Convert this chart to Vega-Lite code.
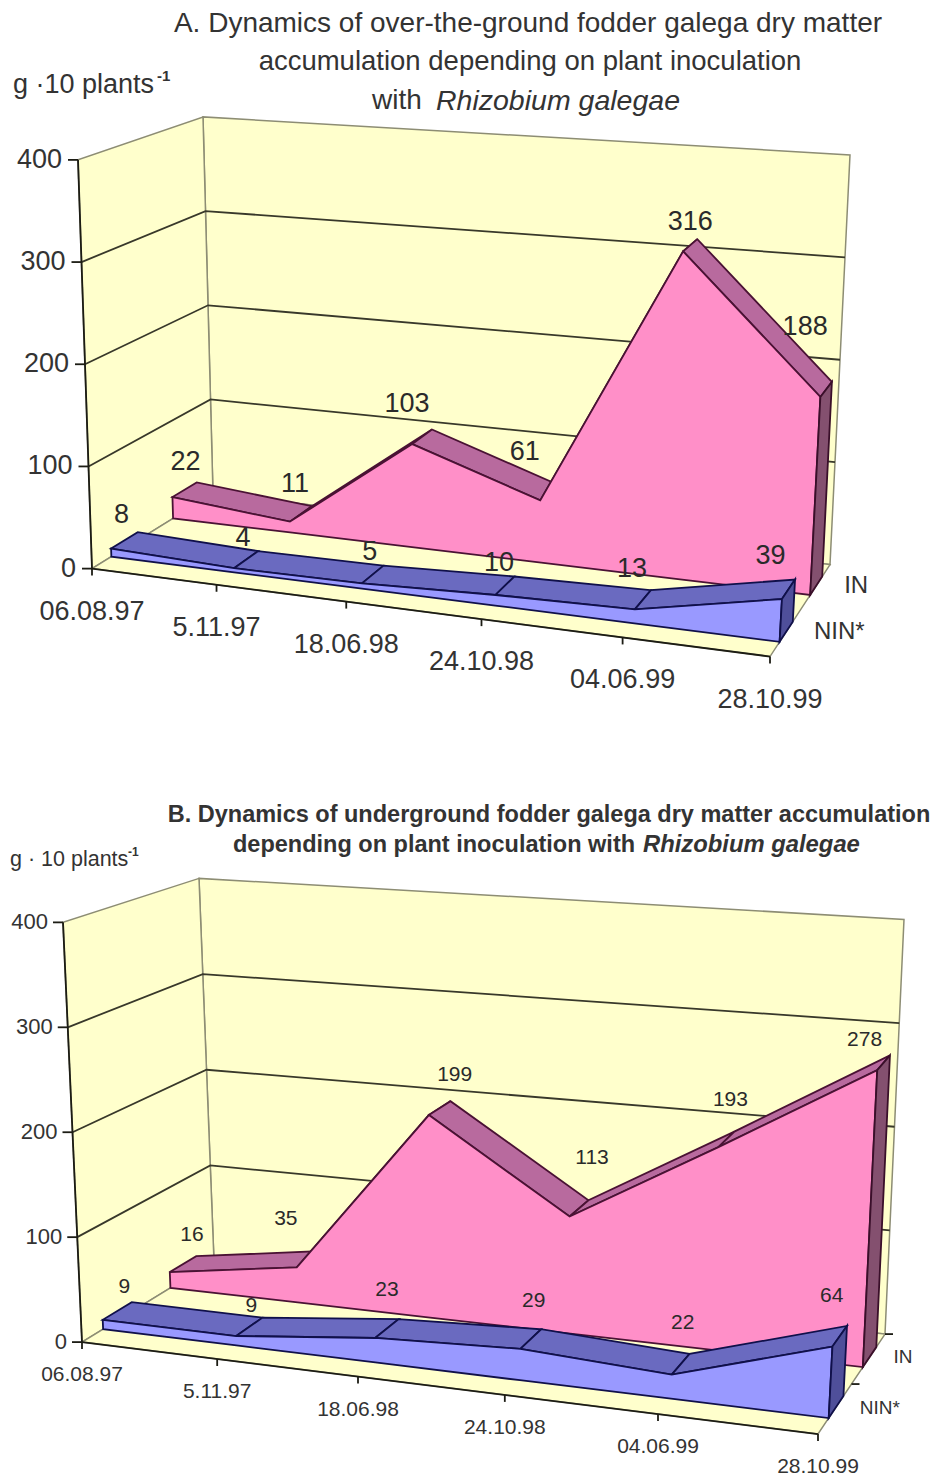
{
"$schema":"https://vega.github.io/schema/vega-lite/v6.json",
"width":933,"height":1477,"padding":0,
"autosize":{"type":"fit","contains":"padding"},
"background":"#ffffff",
"config":{"view":{"stroke":null},"text":{"font":"Liberation Sans"}},
"data":{"values":[
{"panel":"A","series":"IN","date":"06.08.97","idx":0,"value":22},
{"panel":"A","series":"IN","date":"5.11.97","idx":1,"value":11},
{"panel":"A","series":"IN","date":"18.06.98","idx":2,"value":103},
{"panel":"A","series":"IN","date":"24.10.98","idx":3,"value":61},
{"panel":"A","series":"IN","date":"04.06.99","idx":4,"value":316},
{"panel":"A","series":"IN","date":"28.10.99","idx":5,"value":188},
{"panel":"A","series":"NIN*","date":"06.08.97","idx":0,"value":8},
{"panel":"A","series":"NIN*","date":"5.11.97","idx":1,"value":4},
{"panel":"A","series":"NIN*","date":"18.06.98","idx":2,"value":5},
{"panel":"A","series":"NIN*","date":"24.10.98","idx":3,"value":10},
{"panel":"A","series":"NIN*","date":"04.06.99","idx":4,"value":13},
{"panel":"A","series":"NIN*","date":"28.10.99","idx":5,"value":39},
{"panel":"B","series":"IN","date":"06.08.97","idx":0,"value":16},
{"panel":"B","series":"IN","date":"5.11.97","idx":1,"value":35},
{"panel":"B","series":"IN","date":"18.06.98","idx":2,"value":199},
{"panel":"B","series":"IN","date":"24.10.98","idx":3,"value":113},
{"panel":"B","series":"IN","date":"04.06.99","idx":4,"value":193},
{"panel":"B","series":"IN","date":"28.10.99","idx":5,"value":278},
{"panel":"B","series":"NIN*","date":"06.08.97","idx":0,"value":9},
{"panel":"B","series":"NIN*","date":"5.11.97","idx":1,"value":9},
{"panel":"B","series":"NIN*","date":"18.06.98","idx":2,"value":23},
{"panel":"B","series":"NIN*","date":"24.10.98","idx":3,"value":29},
{"panel":"B","series":"NIN*","date":"04.06.99","idx":4,"value":22},
{"panel":"B","series":"NIN*","date":"28.10.99","idx":5,"value":64},
{"panel":"A","level":0},{"panel":"A","level":100},{"panel":"A","level":200},{"panel":"A","level":300},{"panel":"A","level":400},
{"panel":"B","level":0},{"panel":"B","level":100},{"panel":"B","level":200},{"panel":"B","level":300},{"panel":"B","level":400},
{"panel":"A","caption":"A. Dynamics of over-the-ground fodder galega dry matter"},
{"panel":"A","caption":"accumulation depending on plant inoculation"},
{"panel":"A","caption":"with"},
{"panel":"A","caption":"Rhizobium galegae"},
{"panel":"A","caption":"g ·10 plants"},
{"panel":"A","caption":"-1"},
{"panel":"B","caption":"B. Dynamics of underground fodder galega dry matter accumulation"},
{"panel":"B","caption":"depending on plant inoculation with"},
{"panel":"B","caption":"Rhizobium galegae"},
{"panel":"B","caption":"g · 10 plants"},
{"panel":"B","caption":"-1"}
]},
"transform":[
{"window":[{"op":"lead","field":"value","as":"next"}],"groupby":["panel","series"],"sort":[{"field":"idx","order":"ascending"}]},
{"calculate":"datum.series=='IN'?0.67:0.16","as":"d0"},
{"calculate":"datum.series=='IN'?0.87:0.38","as":"d1"},
{"calculate":"(datum.d0+datum.d1)/2","as":"dm"},
{"calculate":"isValid(datum.caption)?[{p:'caption',g:0,o:0,u:0,d:0,v:0,k:true}]:isValid(datum.series)?[{p:'top',g:datum.idx,o:0,u:datum.idx,d:datum.d0,v:datum.value,k:datum.idx<5},{p:'top',g:datum.idx,o:1,u:datum.idx+1,d:datum.d0,v:datum.next,k:datum.idx<5},{p:'top',g:datum.idx,o:2,u:datum.idx+1,d:datum.d1,v:datum.next,k:datum.idx<5},{p:'top',g:datum.idx,o:3,u:datum.idx,d:datum.d1,v:datum.value,k:datum.idx<5},{p:'face',g:0,o:datum.idx,u:datum.idx,d:datum.d0,v:datum.value,k:true},{p:'face',g:0,o:99-datum.idx,u:datum.idx,d:datum.d0,v:0,k:true},{p:'cap',g:0,o:0,u:5,d:datum.d0,v:0,k:datum.idx==5},{p:'cap',g:0,o:1,u:5,d:datum.d1,v:0,k:datum.idx==5},{p:'cap',g:0,o:2,u:5,d:datum.d1,v:datum.value,k:datum.idx==5},{p:'cap',g:0,o:3,u:5,d:datum.d0,v:datum.value,k:datum.idx==5},{p:'val',g:0,o:0,u:datum.idx,d:datum.dm,v:datum.value,k:true},{p:'date',g:datum.idx,o:0,u:datum.idx,d:0,v:0,k:datum.series=='IN'},{p:'xtick',g:datum.idx,o:0,u:datum.idx,d:0,v:0,k:datum.series=='IN'},{p:'xtick',g:datum.idx,o:1,u:datum.idx,d:0,v:0,k:datum.series=='IN'},{p:'slabel',g:0,o:0,u:5,d:datum.series=='IN'?0.77:0.265,v:0,k:datum.idx==5}]:[{p:'back',g:0,o:0,u:0,d:1,v:0,k:datum.level==0},{p:'back',g:0,o:1,u:5,d:1,v:0,k:datum.level==0},{p:'back',g:0,o:2,u:5,d:1,v:400,k:datum.level==0},{p:'back',g:0,o:3,u:0,d:1,v:400,k:datum.level==0},{p:'side',g:0,o:0,u:0,d:0,v:0,k:datum.level==0},{p:'side',g:0,o:1,u:0,d:1,v:0,k:datum.level==0},{p:'side',g:0,o:2,u:0,d:1,v:400,k:datum.level==0},{p:'side',g:0,o:3,u:0,d:0,v:400,k:datum.level==0},{p:'floor',g:0,o:0,u:0,d:0,v:0,k:datum.level==0},{p:'floor',g:0,o:1,u:5,d:0,v:0,k:datum.level==0},{p:'floor',g:0,o:2,u:5,d:1,v:0,k:datum.level==0},{p:'floor',g:0,o:3,u:0,d:1,v:0,k:datum.level==0},{p:'grid',g:datum.level,o:0,u:0,d:0,v:datum.level,k:datum.level>0&&datum.level<400},{p:'grid',g:datum.level,o:1,u:0,d:1,v:datum.level,k:datum.level>0&&datum.level<400},{p:'grid',g:datum.level,o:2,u:5,d:1,v:datum.level,k:datum.level>0&&datum.level<400},{p:'axis',g:1,o:0,u:0,d:0,v:0,k:datum.level==0},{p:'axis',g:1,o:1,u:0,d:0,v:400,k:datum.level==0},{p:'axis',g:2,o:0,u:0,d:0,v:0,k:datum.level==0},{p:'axis',g:2,o:1,u:5,d:0,v:0,k:datum.level==0},{p:'dtick',g:1,o:0,u:5,d:0.5,v:0,k:datum.level==0&&datum.panel=='B'},{p:'dtick',g:1,o:1,u:5,d:0.5,v:0,k:datum.level==0&&datum.panel=='B'},{p:'dtick',g:2,o:0,u:5,d:1,v:0,k:datum.level==0&&datum.panel=='B'},{p:'dtick',g:2,o:1,u:5,d:1,v:0,k:datum.level==0&&datum.panel=='B'},{p:'ytick',g:datum.level,o:0,u:0,d:0,v:datum.level,k:true},{p:'ytick',g:datum.level,o:1,u:0,d:0,v:datum.level,k:true},{p:'vlabel',g:0,o:0,u:0,d:0,v:datum.level,k:true}]","as":"c"},
{"flatten":["c"]},
{"filter":"datum.c.k"},
{"calculate":"datum.c.p","as":"part"},
{"calculate":"datum.c.o","as":"vertex"},
{"calculate":"datum.panel+'|'+datum.series+'|'+datum.c.p+'|'+datum.c.g","as":"piece"},
{"calculate":"datum.panel=='A'?[92,569,770,657,213,494,830,565,78,160,795,212,203,117,850,155]:[82,1343,818,1435,214,1262,885,1335,63,923,842,982,199,879,904,920]","as":"cam"},
{"calculate":"datum.c.u/5*0.9/(1-0.1*datum.c.u/5)","as":"f"},
{"calculate":"datum.c.d","as":"dp"},
{"calculate":"datum.c.v/400","as":"z"},
{"calculate":"datum.panel=='A'?(datum.series=='IN'?[1,-6,-15,-24,0,-21]:[-3,-3,-3,-6,-11,-18]):(datum.series=='IN'?[9,-23,15,13,4,-19]:[7,2,0,3,2,-8])","as":"nudgeX"},
{"calculate":"datum.panel=='A'?(datum.series=='IN'?[-28,-30,-33,-40,-23,-62]:[-25,-22,-22,-23,-31,-33]):(datum.series=='IN'?[-29,-40,-33,-50,-39,-23]:[-24,-21,-39,-38,-41,-40])","as":"nudgeY"},
{"calculate":"datum.c.p=='val'?datum.nudgeX[datum.idx]:datum.c.p=='vlabel'?(datum.panel=='A'?-16:-15):datum.c.p=='slabel'?(datum.panel=='A'?28:24):datum.c.p=='ytick'?-10*datum.c.o:datum.c.p=='dtick'?8*datum.c.o:0","as":"ox"},
{"calculate":"datum.c.p=='val'?datum.nudgeY[datum.idx]:datum.c.p=='date'?(datum.panel=='A'?43:33):datum.c.p=='xtick'?7*datum.c.o:0","as":"oy"},
{"calculate":"datum.ox+(1-datum.z)*((1-datum.dp)*((1-datum.f)*datum.cam[0]+datum.f*datum.cam[2])+datum.dp*((1-datum.f)*datum.cam[4]+datum.f*datum.cam[6]))+datum.z*((1-datum.dp)*((1-datum.f)*datum.cam[8]+datum.f*datum.cam[10])+datum.dp*((1-datum.f)*datum.cam[12]+datum.f*datum.cam[14]))","as":"sx"},
{"calculate":"datum.oy+(1-datum.z)*((1-datum.dp)*((1-datum.f)*datum.cam[1]+datum.f*datum.cam[3])+datum.dp*((1-datum.f)*datum.cam[5]+datum.f*datum.cam[7]))+datum.z*((1-datum.dp)*((1-datum.f)*datum.cam[9]+datum.f*datum.cam[11])+datum.dp*((1-datum.f)*datum.cam[13]+datum.f*datum.cam[15]))","as":"sy"}
],
"encoding":{
"x":{"field":"sx","type":"quantitative","scale":{"domain":[0,933]},"axis":null},
"y":{"field":"sy","type":"quantitative","scale":{"domain":[1477,0]},"axis":null}
},
"layer":[
{"transform":[{"filter":"datum.part=='side'||datum.part=='back'||datum.part=='floor'"}],"mark":{"type":"line","interpolate":"linear-closed","fill":"#FFFFCC","stroke":"#8d8d74","strokeWidth":1.5},"encoding":{"detail":{"field":"piece"},"order":{"field":"vertex","type":"quantitative"}}},
{"transform":[{"filter":"datum.part=='grid'"}],"mark":{"type":"line","stroke":"#38382a","strokeWidth":1.8},"encoding":{"detail":{"field":"piece"},"order":{"field":"vertex","type":"quantitative"}}},
{"transform":[{"filter":"datum.part=='axis'||datum.part=='ytick'||datum.part=='xtick'||datum.part=='dtick'"}],"mark":{"type":"line","stroke":"#1c1c14","strokeWidth":1.8},"encoding":{"detail":{"field":"piece"},"order":{"field":"vertex","type":"quantitative"}}},
{"transform":[{"filter":"datum.series=='IN'&&datum.part=='top'"}],"mark":{"type":"line","interpolate":"linear-closed","fill":"#B86A9E","stroke":"#4a1234","strokeWidth":1.8},"encoding":{"detail":{"field":"piece"},"order":{"field":"vertex","type":"quantitative"}}},
{"transform":[{"filter":"datum.series=='IN'&&datum.part=='face'"}],"mark":{"type":"line","interpolate":"linear-closed","fill":"#FF8FC8","stroke":"#4a1234","strokeWidth":1.8},"encoding":{"detail":{"field":"piece"},"order":{"field":"vertex","type":"quantitative"}}},
{"transform":[{"filter":"datum.series=='IN'&&datum.part=='cap'"}],"mark":{"type":"line","interpolate":"linear-closed","fill":"#84506F","stroke":"#3a0f2a","strokeWidth":1.8},"encoding":{"detail":{"field":"piece"},"order":{"field":"vertex","type":"quantitative"}}},
{"transform":[{"filter":"datum.series=='NIN*'&&datum.part=='top'"}],"mark":{"type":"line","interpolate":"linear-closed","fill":"#6A6AC0","stroke":"#10104a","strokeWidth":1.8},"encoding":{"detail":{"field":"piece"},"order":{"field":"vertex","type":"quantitative"}}},
{"transform":[{"filter":"datum.series=='NIN*'&&datum.part=='face'"}],"mark":{"type":"line","interpolate":"linear-closed","fill":"#9999FF","stroke":"#10104a","strokeWidth":1.8},"encoding":{"detail":{"field":"piece"},"order":{"field":"vertex","type":"quantitative"}}},
{"transform":[{"filter":"datum.series=='NIN*'&&datum.part=='cap'"}],"mark":{"type":"line","interpolate":"linear-closed","fill":"#4F4F9A","stroke":"#10104a","strokeWidth":1.8},"encoding":{"detail":{"field":"piece"},"order":{"field":"vertex","type":"quantitative"}}},
{"transform":[{"filter":"datum.part=='val'&&datum.panel=='A'"}],"mark":{"type":"text","fontSize":27,"fill":"#2a2a2a"},"encoding":{"text":{"field":"value","type":"quantitative"}}},
{"transform":[{"filter":"datum.part=='val'&&datum.panel=='B'"}],"mark":{"type":"text","fontSize":21,"fill":"#2a2a2a"},"encoding":{"text":{"field":"value","type":"quantitative"}}},
{"transform":[{"filter":"datum.part=='date'&&datum.panel=='A'"}],"mark":{"type":"text","fontSize":27,"fill":"#333333"},"encoding":{"text":{"field":"date"}}},
{"transform":[{"filter":"datum.part=='date'&&datum.panel=='B'"}],"mark":{"type":"text","fontSize":21,"fill":"#333333"},"encoding":{"text":{"field":"date"}}},
{"transform":[{"filter":"datum.part=='vlabel'&&datum.panel=='A'"}],"mark":{"type":"text","fontSize":27,"align":"right","fill":"#333333"},"encoding":{"text":{"field":"level","type":"quantitative"}}},
{"transform":[{"filter":"datum.part=='vlabel'&&datum.panel=='B'"}],"mark":{"type":"text","fontSize":22,"align":"right","fill":"#333333"},"encoding":{"text":{"field":"level","type":"quantitative"}}},
{"transform":[{"filter":"datum.part=='slabel'&&datum.panel=='A'"}],"mark":{"type":"text","fontSize":24,"align":"left","fill":"#333333"},"encoding":{"text":{"field":"series"}}},
{"transform":[{"filter":"datum.part=='slabel'&&datum.panel=='B'"}],"mark":{"type":"text","fontSize":19,"align":"left","fill":"#333333"},"encoding":{"text":{"field":"series"}}},
{"transform":[{"filter":"datum.panel=='A'&&datum.caption=='A. Dynamics of over-the-ground fodder galega dry matter'"},{"calculate":"528","as":"sx"},{"calculate":"24","as":"sy"}],"mark":{"type":"text","fontSize":28,"fill":"#333333"},"encoding":{"text":{"field":"caption"}}},
{"transform":[{"filter":"datum.panel=='A'&&datum.caption=='accumulation depending on plant inoculation'"},{"calculate":"530","as":"sx"},{"calculate":"62","as":"sy"}],"mark":{"type":"text","fontSize":27.5,"fill":"#333333"},"encoding":{"text":{"field":"caption"}}},
{"transform":[{"filter":"datum.panel=='A'&&datum.caption=='with'"},{"calculate":"372","as":"sx"},{"calculate":"101","as":"sy"}],"mark":{"type":"text","fontSize":28,"align":"left","fill":"#333333"},"encoding":{"text":{"field":"caption"}}},
{"transform":[{"filter":"datum.panel=='A'&&datum.caption=='Rhizobium galegae'"},{"calculate":"436","as":"sx"},{"calculate":"101","as":"sy"}],"mark":{"type":"text","fontSize":28.5,"align":"left","fontStyle":"italic","fill":"#333333"},"encoding":{"text":{"field":"caption"}}},
{"transform":[{"filter":"datum.panel=='A'&&datum.caption=='g ·10 plants'"},{"calculate":"13","as":"sx"},{"calculate":"85","as":"sy"}],"mark":{"type":"text","fontSize":27,"align":"left","fill":"#333333"},"encoding":{"text":{"field":"caption"}}},
{"transform":[{"filter":"datum.panel=='A'&&datum.caption=='-1'"},{"calculate":"157","as":"sx"},{"calculate":"76","as":"sy"}],"mark":{"type":"text","fontSize":15,"fontWeight":"bold","align":"left","fill":"#333333"},"encoding":{"text":{"field":"caption"}}},
{"transform":[{"filter":"datum.panel=='B'&&datum.caption=='B. Dynamics of underground fodder galega dry matter accumulation'"},{"calculate":"549","as":"sx"},{"calculate":"816","as":"sy"}],"mark":{"type":"text","fontSize":23.5,"fontWeight":"bold","fill":"#333333"},"encoding":{"text":{"field":"caption"}}},
{"transform":[{"filter":"datum.panel=='B'&&datum.caption=='depending on plant inoculation with'"},{"calculate":"233","as":"sx"},{"calculate":"846","as":"sy"}],"mark":{"type":"text","fontSize":23.5,"fontWeight":"bold","align":"left","fill":"#333333"},"encoding":{"text":{"field":"caption"}}},
{"transform":[{"filter":"datum.panel=='B'&&datum.caption=='Rhizobium galegae'"},{"calculate":"643","as":"sx"},{"calculate":"846","as":"sy"}],"mark":{"type":"text","fontSize":23.8,"fontWeight":"bold","fontStyle":"italic","align":"left","fill":"#333333"},"encoding":{"text":{"field":"caption"}}},
{"transform":[{"filter":"datum.panel=='B'&&datum.caption=='g · 10 plants'"},{"calculate":"10","as":"sx"},{"calculate":"861","as":"sy"}],"mark":{"type":"text","fontSize":21.5,"align":"left","fill":"#333333"},"encoding":{"text":{"field":"caption"}}},
{"transform":[{"filter":"datum.panel=='B'&&datum.caption=='-1'"},{"calculate":"128","as":"sx"},{"calculate":"853","as":"sy"}],"mark":{"type":"text","fontSize":12,"fontWeight":"bold","align":"left","fill":"#333333"},"encoding":{"text":{"field":"caption"}}}
]
}
